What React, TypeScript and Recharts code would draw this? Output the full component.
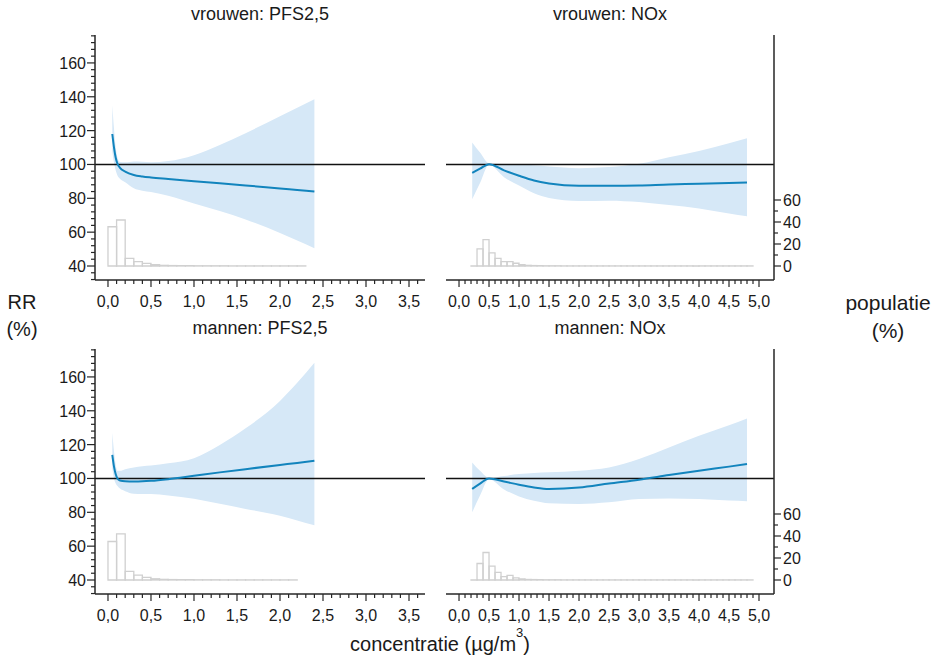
import React from "react";
import { ComposedChart, Area, Line, XAxis, YAxis, ReferenceLine, ReferenceArea } from "recharts";

const FONT = "'Liberation Sans', Arial, Helvetica, sans-serif";
const INK = "#1a1a1a";
const AXIS = "#262626";
const BAND = "#d6e8f7";
const CURVE = "#1284bd";
const HIST = "#d0d0d0";

// vrouwen: PFS2,5
const vpX = [0.05, 0.07, 0.09, 0.11, 0.14, 0.2, 0.3, 0.4, 0.5, 0.7, 1.0, 1.3, 1.6, 2.0, 2.2, 2.4];
const vpRR = [118, 110, 104, 100.5, 98, 95.8, 93.8, 92.9, 92.3, 91.4, 90.1, 88.9, 87.6, 85.8, 84.9, 84];
const vpHi = [135, 121, 110, 104, 101.5, 101.3, 101.8, 101.6, 101.3, 102, 105.5, 111.5, 118.5, 128.5, 133.5, 138.5];
const vpLo = [108, 101, 96.5, 93.5, 91.5, 89.5, 86, 84.5, 83.7, 81.5, 77, 72.5, 67.5, 59.5, 55, 50.5];
const vpBins = [35.7, 41.8, 7.0, 3.9, 2.4, 1.2, 0.6, 0.4, 0.3, 0.3, 0.2, 0.2, 0.2, 0.2, 0.1, 0.1, 0.1, 0.1, 0.1, 0.1, 0.1, 0.1, 0.1];

// vrouwen: NOx
const vnX = [0.22, 0.35, 0.5, 0.75, 1.0, 1.25, 1.5, 2.0, 2.5, 3.0, 3.5, 4.0, 4.5, 4.8];
const vnRR = [95, 97.5, 100.2, 96.5, 93.3, 90.5, 88.8, 87.4, 87.4, 87.6, 88.2, 88.6, 89.1, 89.4];
const vnHi = [113, 107, 100.6, 100.3, 100.2, 99.5, 98.8, 97.8, 98.5, 100.4, 104.3, 108, 112.5, 115.5];
const vnLo = [79.5, 89, 99.8, 92.5, 87.5, 83, 80.2, 78.4, 78.6, 77.8, 76, 74, 71, 69.4];
const vnBins = [0.2, 15.5, 24, 12, 7, 4, 4, 2.5, 1.2, 0.6, 0.4, 0.3, 0.2, 0.2, 0.2, 0.1, 0.1, 0.1, 0.1, 0.1, 0.1, 0.1, 0.1, 0.1, 0.1, 0.1, 0.1, 0.1, 0.1, 0.1, 0.1, 0.1, 0.1, 0.1, 0.1, 0.1, 0.1, 0.1, 0.1, 0.1, 0.1, 0.1, 0.1, 0.1, 0.1, 0.1, 0.1];

// mannen: PFS2,5
const mpX = [0.05, 0.07, 0.09, 0.11, 0.14, 0.2, 0.3, 0.4, 0.5, 0.7, 1.0, 1.3, 1.6, 2.0, 2.2, 2.4];
const mpRR = [114, 107, 102.5, 100, 98.8, 98.3, 98.2, 98.3, 98.6, 99.6, 101.6, 103.6, 105.5, 108, 109.2, 110.5];
const mpHi = [127, 116, 108, 104.5, 104.5, 105.5, 106.5, 107.2, 107.6, 109, 112, 119.8, 129.6, 145.8, 156.5, 168.4];
const mpLo = [106, 100, 97, 95.5, 94, 92.5, 91, 90.8, 90.8, 90, 88, 85, 82, 78, 75.2, 72.3];
const mpBins = [35, 42, 7.8, 4.5, 2.4, 1.1, 0.6, 0.4, 0.3, 0.3, 0.2, 0.2, 0.2, 0.1, 0.1, 0.1, 0.1, 0.1, 0.1, 0.1, 0.1, 0.1];

// mannen: NOx
const mnX = [0.22, 0.35, 0.5, 0.75, 1.0, 1.25, 1.5, 2.0, 2.5, 3.0, 3.5, 4.0, 4.5, 4.8];
const mnRR = [93.8, 97, 100, 98.2, 96.3, 94.7, 93.8, 94.6, 97, 99.3, 102, 104.6, 107, 108.5];
const mnHi = [109.5, 104.5, 100.4, 101.5, 102.6, 103.2, 103.6, 104.6, 106.5, 111.5, 118.3, 125.2, 131.5, 135.5];
const mnLo = [80, 90, 99.6, 93.5, 89.4, 86.8, 85.3, 84.9, 85.9, 87.9, 88.2, 87.9, 87, 86.6];
const mnBins = [0.2, 15, 25, 12.7, 7, 3, 4.2, 2, 1, 0.5, 0.4, 0.3, 0.2, 0.2, 0.2, 0.1, 0.1, 0.1, 0.1, 0.1, 0.1, 0.1, 0.1, 0.1, 0.1, 0.1, 0.1, 0.1, 0.1, 0.1, 0.1, 0.1, 0.1, 0.1, 0.1, 0.1, 0.1, 0.1, 0.1, 0.1, 0.1, 0.1, 0.1, 0.1, 0.1, 0.1, 0.1];

const BIN_WIDTH = 0.1;
const PFS_BIN_START = 0;
const NOX_BIN_START = 0.2;

// axes
const PFS_X_MAJOR = [0, 0.5, 1, 1.5, 2, 2.5, 3, 3.5];
const NOX_X_MAJOR = [0, 0.5, 1, 1.5, 2, 2.5, 3, 3.5, 4, 4.5, 5];
const RR_MAJOR = [40, 60, 80, 100, 120, 140, 160];
const POP_MAJOR = [0, 20, 40, 60];

const steps = (from: number, to: number, step: number) =>
  Array.from({ length: Math.round((to - from) / step) + 1 }, (_, i) => +(from + i * step).toFixed(2));

const PFS_X_TICKS = steps(0, 3.6, 0.1);
const NOX_X_TICKS = steps(0, 5, 0.1);
const RR_TICKS = steps(32, 176, 4);
const POP_TICKS = steps(0, 60, 10);

const RR_DOMAIN: [number, number] = [31.73, 176.5];
const POP_DOMAIN: [number, number] = [-12.73, 210];
const PFS_X_DOMAIN: [number, number] = [-0.151, 3.686];
const NOX_X_DOMAIN: [number, number] = [-0.217, 5.25];

const TICK_FS = 16;

const fmt = (v: number) => v.toFixed(1).replace(".", ",");
const isIn = (arr: number[], v: number) => arr.some((a) => Math.abs(a - v) < 1e-6);

const makeXTick = (major: number[]) => (props: any) => {
  const { x, y, payload } = props;
  const big = isIn(major, payload.value);
  return (
    <g>
      <line x1={x} y1={y} x2={x} y2={y + (big ? 7 : 4)} stroke={AXIS} strokeWidth={1.2} />
      {big && (
        <text x={x} y={y + 27} textAnchor="middle" fontSize={TICK_FS} fontFamily={FONT} fill={INK}>
          {fmt(payload.value)}
        </text>
      )}
    </g>
  );
};

const RRTick = (props: any) => {
  const { x, y, payload } = props;
  const big = isIn(RR_MAJOR, payload.value);
  return (
    <g>
      <line x1={x - (big ? 8 : 4)} y1={y} x2={x} y2={y} stroke={AXIS} strokeWidth={1.2} />
      {big && (
        <text x={x - 9} y={y + 6} textAnchor="end" fontSize={TICK_FS} fontFamily={FONT} fill={INK}>
          {payload.value}
        </text>
      )}
    </g>
  );
};

const PopTick = (props: any) => {
  const { x, y, payload } = props;
  const big = isIn(POP_MAJOR, payload.value);
  return (
    <g>
      <line x1={x} y1={y} x2={x + (big ? 7 : 4)} y2={y} stroke={AXIS} strokeWidth={1.2} />
      {big && (
        <text x={x + 9} y={y + 6} textAnchor="start" fontSize={TICK_FS} fontFamily={FONT} fill={INK}>
          {payload.value}
        </text>
      )}
    </g>
  );
};

type PanelProps = {
  side: "left" | "right";
  top: number;
  xs: number[];
  rr: number[];
  lo: number[];
  hi: number[];
  bins: number[];
  binStart: number;
};

function Panel({ side, top, xs, rr, lo, hi, bins, binStart }: PanelProps) {
  const data = xs.map((x, i) => ({ x, rr: rr[i], band: [lo[i], hi[i]] }));
  const isLeft = side === "left";
  return (
    <div style={{ position: "absolute", left: isLeft ? 0 : 440, top }}>
      <ComposedChart
        width={isLeft ? 440 : 394}
        height={320}
        data={data}
        margin={isLeft ? { top: 35, right: 15, left: 0, bottom: 0 } : { top: 35, right: 0, left: 6, bottom: 0 }}
      >
        <XAxis
          dataKey="x"
          type="number"
          domain={isLeft ? PFS_X_DOMAIN : NOX_X_DOMAIN}
          ticks={isLeft ? PFS_X_TICKS : NOX_X_TICKS}
          interval={0}
          allowDataOverflow
          height={40}
          tickLine={false}
          tickSize={0}
          tickMargin={0}
          axisLine={{ stroke: AXIS, strokeWidth: 1.5 }}
          tick={makeXTick(isLeft ? PFS_X_MAJOR : NOX_X_MAJOR)}
        />
        <YAxis
          yAxisId="rr"
          type="number"
          domain={RR_DOMAIN}
          ticks={RR_TICKS}
          interval={0}
          allowDataOverflow
          hide={!isLeft}
          width={95}
          tickLine={false}
          tickSize={0}
          tickMargin={0}
          axisLine={{ stroke: AXIS, strokeWidth: 1.5 }}
          tick={RRTick}
        />
        <YAxis
          yAxisId="pop"
          orientation="right"
          type="number"
          domain={POP_DOMAIN}
          ticks={POP_TICKS}
          interval={0}
          allowDataOverflow
          hide={isLeft}
          width={60}
          tickLine={false}
          tickSize={0}
          tickMargin={0}
          axisLine={{ stroke: AXIS, strokeWidth: 1.5 }}
          tick={PopTick}
        />
        <Area
          yAxisId="rr"
          dataKey="band"
          type="monotone"
          fill={BAND}
          fillOpacity={1}
          stroke="none"
          isAnimationActive={false}
          dot={false}
          activeDot={false}
        />
        <ReferenceLine yAxisId="rr" y={100} stroke="#111" strokeWidth={1.6} />
        <Line
          yAxisId="rr"
          dataKey="rr"
          type="monotone"
          stroke={CURVE}
          strokeWidth={2}
          dot={false}
          activeDot={false}
          isAnimationActive={false}
        />
        {bins.map((v, i) => (
          <ReferenceArea
            key={i}
            yAxisId="pop"
            x1={binStart + i * BIN_WIDTH}
            x2={binStart + (i + 1) * BIN_WIDTH}
            y1={0}
            y2={v}
            fill="none"
            stroke={HIST}
            strokeWidth={1.3}
          />
        ))}
      </ComposedChart>
    </div>
  );
}

export default function App() {
  const bottom = 313.5;
  return (
    <div style={{ position: "absolute", left: 0, top: 0, width: 938, height: 658, background: "#fff", fontFamily: FONT }}>
      <Panel side="left" top={0} xs={vpX} rr={vpRR} lo={vpLo} hi={vpHi} bins={vpBins} binStart={PFS_BIN_START} />
      <Panel side="right" top={0} xs={vnX} rr={vnRR} lo={vnLo} hi={vnHi} bins={vnBins} binStart={NOX_BIN_START} />
      <Panel side="left" top={bottom} xs={mpX} rr={mpRR} lo={mpLo} hi={mpHi} bins={mpBins} binStart={PFS_BIN_START} />
      <Panel side="right" top={bottom} xs={mnX} rr={mnRR} lo={mnLo} hi={mnHi} bins={mnBins} binStart={NOX_BIN_START} />
      <svg width={938} height={658} style={{ position: "absolute", left: 0, top: 0, pointerEvents: "none" }}>
        <g fontFamily={FONT} fill={INK} textAnchor="middle">
          <text x={260} y={20} fontSize={18}>vrouwen: PFS2,5</text>
          <text x={610} y={20} fontSize={18}>vrouwen: NOx</text>
          <text x={260} y={334} fontSize={18}>mannen: PFS2,5</text>
          <text x={610} y={334} fontSize={18}>mannen: NOx</text>
          <text x={22} y={309} fontSize={20}>RR</text>
          <text x={22} y={336} fontSize={20}>(%)</text>
          <text x={888} y={310} fontSize={21}>populatie</text>
          <text x={888} y={338} fontSize={21}>(%)</text>
          <text x={440} y={651} fontSize={20}>
            concentratie (µg/m
            <tspan dy={-14} fontSize={13}>3</tspan>
            <tspan dy={14}>)</tspan>
          </text>
        </g>
      </svg>
    </div>
  );
}
